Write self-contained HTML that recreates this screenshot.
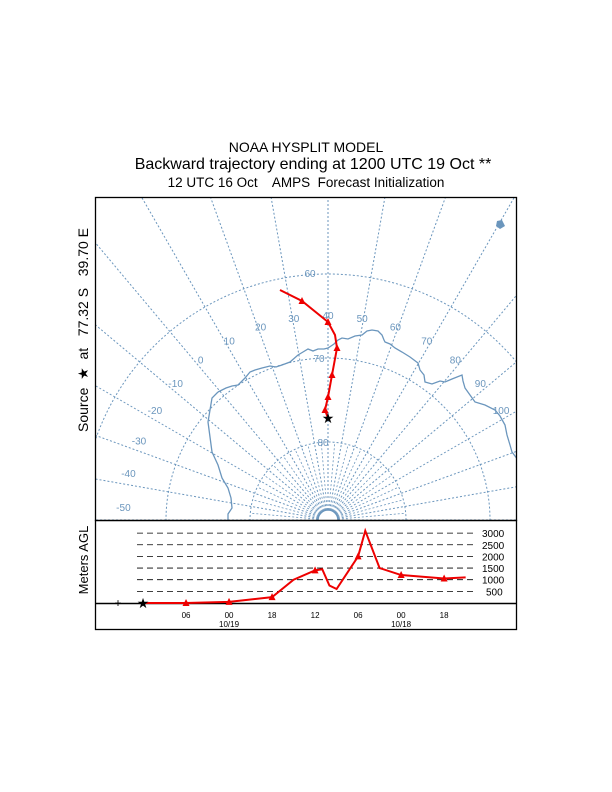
<!DOCTYPE html>
<html><head><meta charset="utf-8"><style>
html,body{margin:0;padding:0;background:#fff;width:612px;height:792px;overflow:hidden;position:relative;}
svg{display:block;position:absolute;left:0;top:0;font-family:"Liberation Sans",Arial,sans-serif;}
</style></head><body><svg id="s" width="612" height="792" viewBox="0 0 612 792">
<defs><clipPath id="mapclip"><rect x="96" y="198" width="420" height="322"/></clipPath></defs>
<text x="306" y="152" font-size="14" text-anchor="middle">NOAA HYSPLIT MODEL</text>
<text x="313" y="169" font-size="16" text-anchor="middle">Backward trajectory ending at 1200 UTC 19 Oct **</text>
<text x="306" y="187" font-size="13.5" text-anchor="middle" xml:space="preserve" style="white-space:pre">12 UTC 16 Oct    AMPS  Forecast Initialization</text>
<g id="map" clip-path="url(#mapclip)"></g>
<rect x="95.5" y="197.5" width="421" height="323" fill="none" stroke="#000" stroke-width="1.3"/>
<g id="prof"></g>
<rect x="95.5" y="520.5" width="421" height="109" fill="none" stroke="#000" stroke-width="1.3"/>
<text transform="translate(88,330) rotate(-90)" font-size="14" text-anchor="middle" xml:space="preserve" style="white-space:pre">Source  ★  at   77.32 S   39.70 E</text>
<text transform="translate(88,560) rotate(-90)" font-size="13" text-anchor="middle">Meters AGL</text>
</svg><script>
const latRings=[60,70,80];
const lonLines=[-50,-40,-30,-20,-10,0,10,20,30,40,50,60,70,80,90,100,110,120,130,-60,-70,-80,-90];
const lonLabels=[[-50,'-50'],[-40,'-40'],[-30,'-30'],[-20,'-20'],[-10,'-10'],[0,'0'],[10,'10'],[20,'20'],[30,'30'],[40,'40'],[50,'50'],[60,'60'],[70,'70'],[80,'80'],[90,'90'],[100,'100']];
const coastLon=[[218,392],[226,388],[232,386],[238,385],[245,378],[250,372],[255,370],[262,368],[270,366],[276,367],[282,365],[290,362],[298,355],[303,352],[308,349],[313,351],[318,349],[324,349],[328,348],[334,344],[338,340],[342,338],[348,339],[355,336],[362,335],[367,331],[372,330],[378,331],[382,335],[384,340],[385,342],[390,344],[395,348],[402,352],[410,357],[418,363],[420,370],[424,375],[425,382],[432,384],[440,381],[445,382],[452,379],[462,375],[463,381],[465,388],[470,395],[475,402],[485,405],[495,410],[500,416],[505,425],[507,435],[510,445],[512,452],[518,460]];
const coastLeft=[[218,392],[212,398],[210,410],[208,422],[210,437],[212,452],[218,465],[222,478],[228,488],[231,498],[232,508],[228,514],[228,522]];
const trajX=[328,325,328,332,337,335,328,302,280];
const trajY=[418,410,397,375,348,335,322,301,290];
const hours=[0,6,12,18,21,24,25,26,27,30,31,33,36,42,45];
const heights=[0,0,50,250,1000,1400,1450,750,600,2000,3100,1500,1200,1050,1100];
const markHours=[6,12,18,24,30,36,42];
const markHeights=[0,50,250,1400,2000,1200,1050];
const hTicks=[500,1000,1500,2000,2500,3000];
const timeTicks=[[6,'06',''],[12,'00','10/19'],[18,'18',''],[24,'12',''],[30,'06',''],[36,'00','10/18'],[42,'18','']];
const NS='http://www.w3.org/2000/svg';
function mk(p,t,a){const e=document.createElementNS(NS,t);for(const k in a)e.setAttribute(k,a[k]);p.appendChild(e);return e;}
const map=document.getElementById('map');
const PX=328,PY=520,BLUE='#6b96bd';
function rLat(l){return (90-l)*8.4-6;}
function ang(L){return (L-40)*Math.PI/180;}
latRings.forEach(l=>{
 const c=mk(map,'circle',{cx:PX,cy:PY,r:rLat(l),fill:'none',stroke:BLUE,'stroke-width':1,'stroke-dasharray':'2,2'});
 
});
const pc=mk(map,'circle',{cx:PX,cy:PY,r:10,fill:'none',stroke:BLUE,'stroke-width':1.5});

lonLines.forEach(L=>{
 const a=ang(L),r0=10,r1=600;
 const e=mk(map,'line',{x1:PX+r0*Math.sin(a),y1:PY-r0*Math.cos(a),x2:PX+r1*Math.sin(a),y2:PY-r1*Math.cos(a),stroke:BLUE,'stroke-width':1,'stroke-dasharray':'2,2'});
 
});
for(let L=-180;L<180;L+=5){if(L%10===0)continue;const a=ang(L);const e=mk(map,'line',{x1:PX+10*Math.sin(a),y1:PY-10*Math.cos(a),x2:PX+78*Math.sin(a),y2:PY-78*Math.cos(a),stroke:BLUE,'stroke-width':0.8,'stroke-dasharray':'2,2'});}
lonLabels.forEach(([L,t])=>{const a=ang(L)*0.96,r=205;
 const e=mk(map,'text',{x:PX+r*Math.sin(a),y:PY-r*Math.cos(a)+4,'font-size':10,fill:BLUE,'text-anchor':'middle'});e.textContent=t;
 });
[['60',310,277],['70',319,362],['80',323,446]].forEach(([t,x,y])=>{const e=mk(map,'text',{x:x,y:y,'font-size':10,fill:BLUE,'text-anchor':'middle'});e.textContent=t;});
[coastLon,coastLeft].forEach(c=>{const e=mk(map,'polyline',{points:c.map(p=>p.join(',')).join(' '),fill:'none',stroke:BLUE,'stroke-width':1.3});});
const isl=mk(map,'polygon',{points:'497,221 502,220 505,226 500,229 496,226',fill:BLUE});

const tr=mk(map,'polyline',{points:trajX.map((x,i)=>x+','+trajY[i]).join(' '),fill:'none',stroke:'#e00',"stroke-width":2});

[1,2,3,4,6,7].forEach(i=>{const x=trajX[i],y=trajY[i];const e=mk(map,'polygon',{points:`${x},${y-4} ${x-3.5},${y+3} ${x+3.5},${y+3}`,fill:'#e00'});});
const st=mk(map,'text',{x:trajX[0],y:trajY[0]+5,'font-size':14,'text-anchor':'middle'});st.textContent='★';

const prof=document.getElementById('prof');
function xh(h){return 143+h*7.17;}
function yv(v){return 603-v*0.0233;}
hTicks.forEach(v=>{const e=mk(prof,'line',{x1:137,x2:474,y1:yv(v),y2:yv(v),stroke:'#000','stroke-width':0.8,'stroke-dasharray':'6,4'});
 const t=mk(prof,'text',{x:v>=1000?482:486,y:yv(v)+4,'font-size':10});t.textContent=v;});
const bl=mk(prof,'line',{x1:96,x2:516,y1:603.5,y2:603.5,stroke:'#000','stroke-width':1.5});
timeTicks.forEach(([h,t,d])=>{const a=mk(prof,'text',{x:xh(h),y:618,'font-size':8,'text-anchor':'middle'});a.textContent=t;
 if(d){const b=mk(prof,'text',{x:xh(h),y:627,'font-size':8,'text-anchor':'middle'});b.textContent=d;}});
const hl=mk(prof,'polyline',{points:hours.map((h,i)=>xh(h)+','+yv(heights[i])).join(' '),fill:'none',stroke:'#e00','stroke-width':2});

markHours.forEach((h,i)=>{const x=xh(h),y=yv(markHeights[i]);const e=mk(prof,'polygon',{points:`${x},${y-4} ${x-3.5},${y+3} ${x+3.5},${y+3}`,fill:'#e00'});});
const ps=mk(prof,'text',{x:143,y:608,'font-size':14,'text-anchor':'middle'});ps.textContent='★';

const pl=mk(prof,'text',{x:118,y:607,'font-size':12,'text-anchor':'middle'});pl.textContent='+';

</script></body></html>
